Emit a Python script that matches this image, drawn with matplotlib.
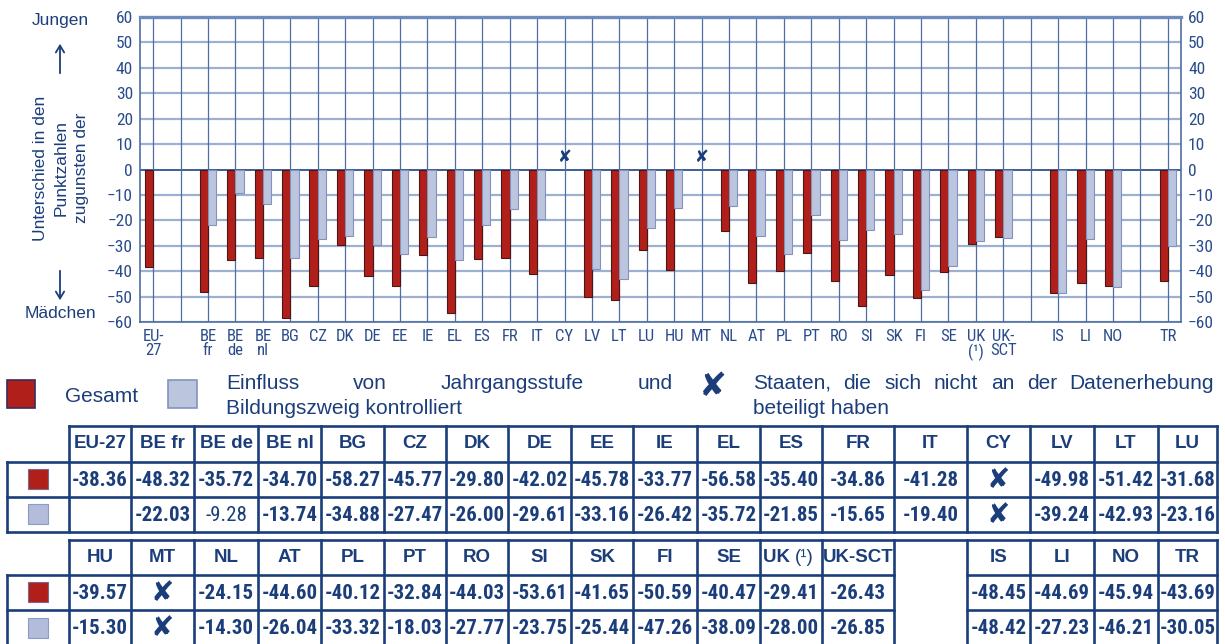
import matplotlib
matplotlib.use('Agg')
import matplotlib.pyplot as plt
import matplotlib.patches as mpatches
from matplotlib import font_manager
import numpy as np

# chart slots ('' = empty slot)
tick_labels = ['EU-\n27', '', 'BE\nfr', 'BE\nde', 'BE\nnl', 'BG', 'CZ', 'DK', 'DE', 'EE',
               'IE', 'EL', 'ES', 'FR', 'IT', 'CY', 'LV', 'LT', 'LU', 'HU', 'MT', 'NL',
               'AT', 'PL', 'PT', 'RO', 'SI', 'SK', 'FI', 'SE', 'UK\n(\u00b9)', 'UK-\nSCT',
               '', 'IS', 'LI', 'NO', '', 'TR']

countries = ['EU-27', 'BE fr', 'BE de', 'BE nl', 'BG', 'CZ', 'DK', 'DE', 'EE', 'IE',
             'EL', 'ES', 'FR', 'IT', 'CY', 'LV', 'LT', 'LU', 'HU', 'MT', 'NL', 'AT',
             'PL', 'PT', 'RO', 'SI', 'SK', 'FI', 'SE', 'UK (1)', 'UK-SCT', 'IS', 'LI',
             'NO', 'TR']
gesamt = [-38.36, -48.32, -35.72, -34.70, -58.27, -45.77, -29.80, -42.02, -45.78, -33.77,
          -56.58, -35.40, -34.86, -41.28, None, -49.98, -51.42, -31.68, -39.57, None,
          -24.15, -44.60, -40.12, -32.84, -44.03, -53.61, -41.65, -50.59, -40.47, -29.41,
          -26.43, -48.45, -44.69, -45.94, -43.69]
kontrolliert = [None, -22.03, -9.28, -13.74, -34.88, -27.47, -26.00, -29.61, -33.16, -26.42,
                -35.72, -21.85, -15.65, -19.40, None, -39.24, -42.93, -23.16, -15.30, None,
                -14.30, -26.04, -33.32, -18.03, -27.77, -23.75, -25.44, -47.26, -38.09, -28.00,
                -26.85, -48.42, -27.23, -46.21, -30.05]
# value printed in normal weight in the table (kontrolliert row)
light_values = ['BE de']

navy = '#1B3E7B'
tick_col = '#2A4C8C'
red, red_edge = '#B11F1B', '#4A1616'
blue, blue_edge = '#BCC5DE', '#8393BE'
hgrid, vgrid = '#9CB0D2', '#4F6EA4'
XMARK = '\u2718'

names = {f.name for f in font_manager.fontManager.ttflist}
narrow = None
for cand in ['Liberation Sans Narrow', 'Arial Narrow', 'Roboto Condensed', 'Open Sans Condensed']:
    if cand in names:
        narrow = cand
        break
if narrow:
    num_font, num_size, tick_font, tick_size = narrow, 15, narrow, 12
else:
    num_font, num_size, tick_font, tick_size = 'Liberation Sans', 12.8, 'Liberation Sans', 10.8

plt.rcParams['font.family'] = ['Liberation Sans', 'DejaVu Sans']

W, H = 1225, 644
fig = plt.figure(figsize=(W / 100, H / 100), dpi=100)

# ---------------- bar chart ----------------
ax = fig.add_axes([140 / W, 1 - 322 / H, (1181 - 140) / W, (322 - 17) / H])
xpos = [i for i, l in enumerate(tick_labels) if l]
g = np.array([np.nan if v is None else v for v in gesamt])
k = np.array([np.nan if v is None else v for v in kontrolliert])
bw = 0.3
ax.bar(np.array(xpos) - bw / 2, g, width=bw, color=red, edgecolor=red_edge, linewidth=0.8, zorder=3)
ax.bar(np.array(xpos) + bw / 2, k, width=bw, color=blue, edgecolor=blue_edge, linewidth=0.8, zorder=3)
for x, v in zip(xpos, gesamt):
    if v is None:
        ax.text(x, 5, XMARK, family='DejaVu Sans', fontsize=12, color=navy,
                ha='center', va='center', zorder=4)

ax.set_xlim(-0.48, len(tick_labels) - 0.52)
ax.set_ylim(-60, 60)
ax.set_yticks(np.arange(-60, 61, 10))
ax.set_xticks(range(len(tick_labels)))
ax.set_xticklabels(tick_labels, family=tick_font, fontsize=tick_size, color=tick_col,
                   linespacing=0.95)
ax.tick_params(axis='y', length=0, labelsize=tick_size + 0.5, labelcolor=tick_col, pad=5,
               labelright=True, right=False)
for t in ax.get_yticklabels():
    t.set_family(tick_font)
ax.tick_params(axis='x', length=0, pad=5)
for y in range(-60, 61, 10):
    ax.axhline(y, color=hgrid if y else '#3D5E99', lw=1.6 if y else 1.4, zorder=1)
for x in range(len(tick_labels)):
    ax.axvline(x, color=vgrid, lw=0.9, zorder=1)
for s in ['left', 'right', 'bottom']:
    ax.spines[s].set_color(vgrid)
    ax.spines[s].set_linewidth(1.2)
ax.spines['top'].set_color('#6F8BBB')
ax.spines['top'].set_linewidth(2.4)

# ---------------- overlay in pixel coordinates ----------------
ov = fig.add_axes([0, 0, 1, 1])
ov.set_xlim(0, W)
ov.set_ylim(H, 0)
ov.axis('off')
ov.patch.set_alpha(0)

ov.text(61, 168, 'Unterschied in den\nPunktzahlen\nzugunsten der', rotation=90,
        ha='center', va='center', multialignment='center', fontsize=12.5,
        color=navy, linespacing=1.45)
ov.text(60, 20, 'Jungen', ha='center', va='center', fontsize=12.5, color=navy)
ov.text(60, 313, 'Mädchen', ha='center', va='center', fontsize=12.5, color=navy)
arrow = dict(arrowstyle='->,head_length=0.5,head_width=0.3', color=navy, lw=1.3)
ov.annotate('', xy=(60, 41), xytext=(60, 76), arrowprops=arrow)
ov.annotate('', xy=(60, 303), xytext=(60, 268), arrowprops=arrow)

# legend
ov.add_patch(mpatches.Rectangle((7, 380), 28, 28, facecolor=red, edgecolor='#3A2A5A', lw=1.2))
ov.add_patch(mpatches.Rectangle((168, 380), 29, 28, facecolor=blue, edgecolor=blue_edge, lw=1.2))
ov.text(65, 396, 'Gesamt', va='center', fontsize=15, color=navy)
ov.text(713, 386, XMARK, family='DejaVu Sans', fontsize=24, color=navy, ha='center', va='center')

renderer = fig.canvas.get_renderer()


def justified(words, x0, x1, y):
    texts = [ov.text(0, y, w, va='center', fontsize=15, color=navy) for w in words]
    widths = [t.get_window_extent(renderer).width for t in texts]
    gap = (x1 - x0 - sum(widths)) / (len(words) - 1)
    x = x0
    for t, wd in zip(texts, widths):
        t.set_x(x)
        x += wd + gap


justified(['Einfluss', 'von', 'Jahrgangsstufe', 'und'], 226, 673, 383)
ov.text(226, 408, 'Bildungszweig kontrolliert', va='center', fontsize=15, color=navy)
justified(['Staaten,', 'die', 'sich', 'nicht', 'an', 'der', 'Datenerhebung'], 753, 1214, 383)
ov.text(753, 408, 'beteiligt haben', va='center', fontsize=15, color=navy)

# ---------------- data tables ----------------
col_edges = [69, 131, 194, 258, 321, 384, 446, 508, 571, 633, 697, 760, 822, 894, 967,
             1030, 1094, 1158, 1217]
left_edge = 7
tlw = 1.9

n1 = 18
tables = [
    (countries[:n1], gesamt[:n1], kontrolliert[:n1], [426, 461.5, 497, 531.5]),
    (countries[n1:31] + [''] + countries[31:], gesamt[n1:31] + [None] + gesamt[31:],
     kontrolliert[n1:31] + [None] + kontrolliert[31:], [539.5, 574.5, 610, 645]),
]

for cols, grow, krow, ys in tables:
    top, hb, r1, bot = ys
    empty = [i for i, c in enumerate(cols) if c == '']
    # horizontal lines
    ov.plot([col_edges[0], col_edges[-1]], [top, top], color=navy, lw=tlw, solid_capstyle='projecting')
    for y in (hb, r1, bot):
        segs = [(left_edge, col_edges[-1])]
        for i in empty:
            segs = [(left_edge, col_edges[i]), (col_edges[i + 1], col_edges[-1])]
        for a, b in segs:
            ov.plot([a, b], [y, y], color=navy, lw=tlw, solid_capstyle='projecting')
    ov.plot([left_edge, left_edge], [hb, bot], color=navy, lw=tlw, solid_capstyle='projecting')
    for x in col_edges:
        ov.plot([x, x], [top, bot], color=navy, lw=tlw, solid_capstyle='projecting')
    # swatches
    ov.add_patch(mpatches.Rectangle((28, (hb + r1) / 2 - 10), 20, 20, facecolor=red,
                                    edgecolor='#7A6A8A', lw=0.8))
    ov.add_patch(mpatches.Rectangle((28, (r1 + bot) / 2 - 10), 20, 20, facecolor='#B3BCDA',
                                    edgecolor='#8E9BC6', lw=0.8))
    for i, c in enumerate(cols):
        if c == '':
            continue
        cx = (col_edges[i] + col_edges[i + 1]) / 2
        yh = (top + hb) / 2
        if c == 'UK (1)':
            uk = ov.text(col_edges[i] + 3, yh, 'UK ', ha='left', va='center', fontsize=13.5,
                         weight='bold', color=navy)
            wd = uk.get_window_extent(renderer).width
            ov.text(col_edges[i] + 3 + wd, yh, '(\u00b9)', ha='left', va='center',
                    fontsize=13.5, color=navy)
        else:
            ov.text(cx, yh, c, ha='center', va='center', fontsize=13.5, weight='bold', color=navy)
        for v, yc, light in ((grow[i], (hb + r1) / 2, False),
                             (krow[i], (r1 + bot) / 2, c in light_values)):
            if grow[i] is None and krow[i] is None and c != 'EU-27':
                ov.text(cx, yc + 1, XMARK, family='DejaVu Sans', fontsize=20, color=navy,
                        ha='center', va='center')
            elif v is not None:
                ov.text(cx, yc + 1, f'{v:.2f}', ha='center', va='center', family=num_font,
                        fontsize=num_size, weight='normal' if light else 'bold', color=navy)

fig.savefig('out.png', dpi=100)
